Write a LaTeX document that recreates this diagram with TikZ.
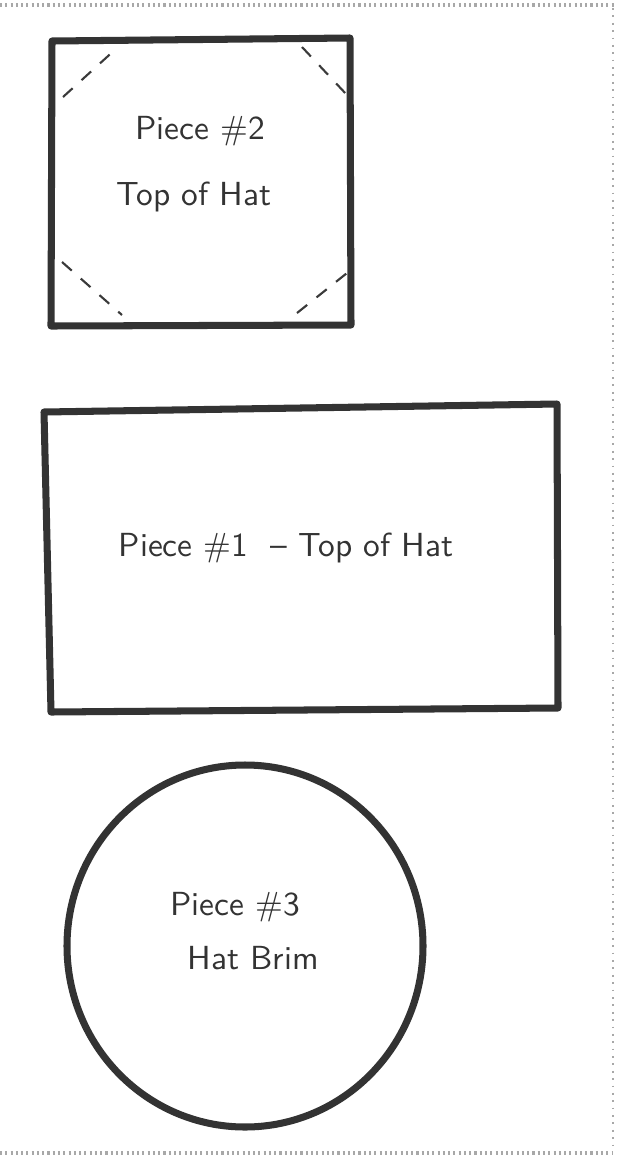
\documentclass[tikz,border=0pt]{standalone}
\usepackage{xcolor}
\usepackage{tikz}
\usetikzlibrary{positioning}
\definecolor{pink}{HTML}{333333}
\definecolor{pgrey}{HTML}{A8A8A8}
\definecolor{pdash}{HTML}{3A3A3A}

\begin{document}
\begin{tikzpicture}[x=0.1mm,y=-0.1mm,
    every node/.style={font=\sffamily\fontsize{9.5}{11}\selectfont,text=pink,align=center},
    piece/.style={draw=pink,line width=2pt,line join=round,line cap=round},
    foldline/.style={draw=pdash,line width=0.6pt,dash pattern=on 1.3mm off 1.2mm}]
  \useasboundingbox (0,0) rectangle (616,1159);
  \fill[white] (0,0) rectangle (616,1159);

  % torn page edge
  \draw[pgrey,line width=1.1pt,dash pattern=on 0.6pt off 0.9pt] (0,5) -- (616,5);
  \draw[pgrey,line width=0.5pt,dash pattern=on 0.5pt off 1.6pt] (613,8) -- (613,1150);
  \draw[pgrey,line width=1.1pt,dash pattern=on 0.6pt off 0.9pt] (0,1153) -- (613,1153);

  % piece 2
  \draw[piece] (52,41) -- (350,38) -- (351,325) -- (51,326) -- cycle;
  \draw[foldline] (63,97) -- (118,47);
  \draw[foldline] (302,47) -- (347,95);
  \draw[foldline] (62,262) -- (122,315);
  \draw[foldline] (297,313) -- (347,273);
  \node (p2) at (200,131) {Piece \#2};
  \node (t2) at (194,197) {Top of Hat};

  % piece 1
  \draw[piece] (44,412) -- (557,404) -- (558,708) -- (51,712) -- cycle;
  \node (p1) at (286,548) {Piece \#1 \ -- Top of Hat};

  % piece 3
  \draw[piece] (245,946) ellipse [x radius=178,y radius=181];
  \node (p3) at (235,907) {Piece \#3};
  \node (t3) at (253,958) {Hat Brim};
\end{tikzpicture}
\end{document}
